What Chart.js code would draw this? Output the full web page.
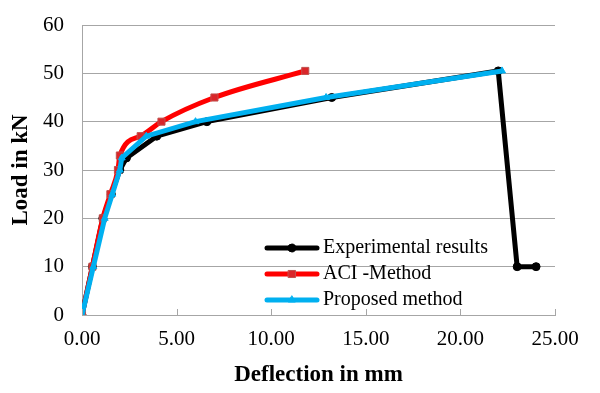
<!DOCTYPE html>
<html>
<head>
<meta charset="utf-8">
<script src="https://cdn.jsdelivr.net/npm/chart.js@4"></script>
<style>
  html, body { margin: 0; padding: 0; background: #fff; }
  #wrap { width: 600px; height: 393px; }
</style>
</head>
<body>
<div id="wrap"><canvas id="loadChart" width="600" height="393"></canvas></div>
<script>
const seriesNames = ['Experimental results', 'ACI -Method', 'Proposed method'];

const expDeflection = [0, 0.55, 1.1, 1.55, 2.0, 2.35, 3.95, 6.6, 13.2, 22.0, 23.0, 24.0];
const expLoad = [0, 10, 20, 25, 30, 32.5, 37, 40, 45, 50.5, 10, 10];

const aciDeflection = [0, 0.55, 1.1, 1.5, 1.9, 2.0, 3.1, 4.2, 7.0, 11.8];
const aciLoad = [0, 10, 20, 25, 30, 33, 37, 40, 45, 50.5];

const propDeflection = [0, 0.6, 1.2, 1.6, 2.0, 2.1, 3.4, 6.0, 12.9, 22.2];
const propLoad = [0, 10, 20, 25, 30, 32.5, 37, 40, 45, 50.5];

const xTicks = [0, 5, 10, 15, 20, 25];
const yTicks = [0, 10, 20, 30, 40, 50, 60];

function toPoints(xs, ys) {
  return xs.map((x, i) => ({ x: x, y: ys[i] }));
}

const serif = "'Liberation Serif', 'DejaVu Serif', serif";
const gridGrey = '#a6a6a6';

// small upward tick marks on the x axis, like the excel chart
const insideTicks = {
  id: 'insideTicks',
  afterDraw(chart) {
    const ctx = chart.ctx;
    const xs = chart.scales.x;
    const bottom = chart.chartArea.bottom;
    ctx.save();
    ctx.strokeStyle = gridGrey;
    ctx.lineWidth = 1;
    xTicks.forEach((v) => {
      const px = Math.round(xs.getPixelForValue(v)) + 0.5;
      ctx.beginPath();
      ctx.moveTo(px, bottom);
      ctx.lineTo(px, bottom - 6);
      ctx.stroke();
    });
    ctx.restore();
  }
};

// legend drawn inside the plot area
const innerLegend = {
  id: 'innerLegend',
  afterDraw(chart) {
    const ctx = chart.ctx;
    const rows = [248, 274, 300];
    chart.data.datasets.forEach((ds, i) => {
      const y = rows[i];
      ctx.save();
      ctx.strokeStyle = ds.borderColor;
      ctx.lineWidth = ds.borderWidth;
      ctx.lineCap = 'round';
      ctx.beginPath();
      ctx.moveTo(267, y);
      ctx.lineTo(317, y);
      ctx.stroke();
      ctx.fillStyle = ds.pointBackgroundColor;
      ctx.strokeStyle = ds.pointBorderColor;
      ctx.lineWidth = ds.pointBorderWidth;
      Chart.helpers.drawPoint(ctx, {
        pointStyle: ds.pointStyle,
        radius: ds.pointRadius,
        borderWidth: ds.pointBorderWidth
      }, 292, y);
      ctx.fillStyle = '#000';
      ctx.font = '20px ' + serif;
      ctx.textBaseline = 'middle';
      ctx.fillText(seriesNames[i], 323, y);
      ctx.restore();
    });
  }
};

const ctx = document.getElementById('loadChart').getContext('2d');
const chart = new Chart(ctx, {
  type: 'line',
  data: {
    datasets: [
      {
        label: seriesNames[0],
        data: toPoints(expDeflection, expLoad),
        borderColor: '#000000',
        borderWidth: 5,
        pointStyle: 'circle',
        pointRadius: 4,
        pointBackgroundColor: '#000000',
        pointBorderColor: '#000000',
        pointBorderWidth: 1,
        tension: 0,
        order: 3,
      },
      {
        label: seriesNames[1],
        data: toPoints(aciDeflection, aciLoad),
        borderColor: '#ff0000',
        borderWidth: 5,
        pointStyle: 'rect',
        pointRadius: 5,
        pointBackgroundColor: '#d9262a',
        pointBorderColor: '#c0504d',
        pointBorderWidth: 1,
        cubicInterpolationMode: 'monotone',
        order: 2,
      },
      {
        label: seriesNames[2],
        data: toPoints(propDeflection, propLoad),
        borderColor: '#00b0f0',
        borderWidth: 5,
        pointStyle: 'triangle',
        pointRadius: 4,
        pointBackgroundColor: '#00b0f0',
        pointBorderColor: '#00b0f0',
        pointBorderWidth: 1,
        tension: 0,
        order: 1,
      },
    ],
  },
  options: {
    responsive: false,
    animation: false,
    layout: { padding: { left: 0, right: 45, top: 25, bottom: 0 } },
    plugins: {
      legend: { display: false },
      tooltip: { enabled: false },
    },
    scales: {
      x: {
        type: 'linear',
        min: 0,
        max: 25,
        afterFit: (scale) => { scale.height = 78; },
        afterBuildTicks: (scale) => { scale.ticks = xTicks.map((v) => ({ value: v })); },
        grid: { display: false, drawTicks: false },
        border: { display: true, color: gridGrey, width: 1 },
        ticks: {
          color: '#000',
          font: { family: serif, size: 21 },
          padding: 12,
          maxRotation: 0,
          callback: (v) => Number(v).toFixed(2),
        },
        title: {
          display: true,
          text: 'Deflection in mm',
          color: '#000',
          font: { family: serif, size: 23, weight: 'bold' },
          padding: { top: 0, bottom: 4 },
        },
      },
      y: {
        min: 0,
        max: 60,
        afterFit: (scale) => { scale.width = 82; },
        afterBuildTicks: (scale) => { scale.ticks = yTicks.map((v) => ({ value: v })); },
        grid: { color: gridGrey, lineWidth: 1, drawTicks: true, tickLength: 18, tickColor: 'rgba(0,0,0,0)' },
        border: { display: true, color: gridGrey, width: 1 },
        ticks: {
          color: '#000',
          font: { family: serif, size: 21 },
          padding: 0,
        },
        title: {
          display: true,
          text: 'Load in kN',
          color: '#000',
          font: { family: serif, size: 23, weight: 'bold' },
          padding: { top: 7, bottom: 0 },
        },
      },
    },
  },
  plugins: [insideTicks, innerLegend],
});
</script>
</body>
</html>
